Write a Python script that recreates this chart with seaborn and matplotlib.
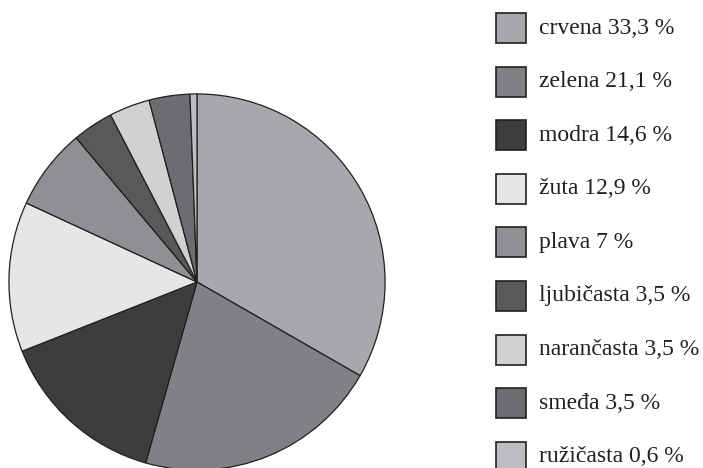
import matplotlib
matplotlib.use("Agg")
import matplotlib.pyplot as plt
import seaborn as sns
from matplotlib.patches import Rectangle

sns.set_theme(style="white")
plt.rcParams['font.family'] = ['Liberation Serif', 'DejaVu Serif']

labels = ["crvena", "zelena", "modra", "žuta", "plava", "ljubičasta", "narančasta", "smeđa", "ružičasta"]
values = [33.3, 21.1, 14.6, 12.9, 7, 3.5, 3.5, 3.5, 0.6]
colors = ["#a7a8ab", "#808185", "#3d3d3f", "#e5e6e8", "#8f9093", "#58595b", "#d0d1d3", "#6c6d70", "#bcbdc0"]

W, H = 703, 468
fig = plt.figure(figsize=(W / 100, H / 100), dpi=100)
fig.patch.set_facecolor("white")

cx, cy, r = 197, 282, 189
ax = fig.add_axes([(cx - r) / W, (H - cy - r) / H, 2 * r / W, 2 * r / H])
ax.pie(values, colors=colors, startangle=90, counterclock=False,
       wedgeprops=dict(edgecolor="#231f20", linewidth=0.9))
ax.set_xlim(-1.005, 1.005)
ax.set_ylim(-1.005, 1.005)
ax.set_aspect("equal")
ax.axis("off")

x0, y0, sz, step = 496, 13, 30, 53.6
for i, (lab, v, c) in enumerate(zip(labels, values, colors)):
    top = y0 + i * step
    fig.patches.append(Rectangle((x0 / W, (H - top - sz) / H), sz / W, sz / H,
                                 transform=fig.transFigure, facecolor=c,
                                 edgecolor="#231f20", linewidth=1.2))
    txt = f"{lab} {v:g} %".replace(".", ",")
    fig.text(539 / W, (H - top - sz / 2) / H, txt, fontsize=17,
             va="center", ha="left", color="#231f20")

fig.savefig("out.png", dpi=100, facecolor="white")
